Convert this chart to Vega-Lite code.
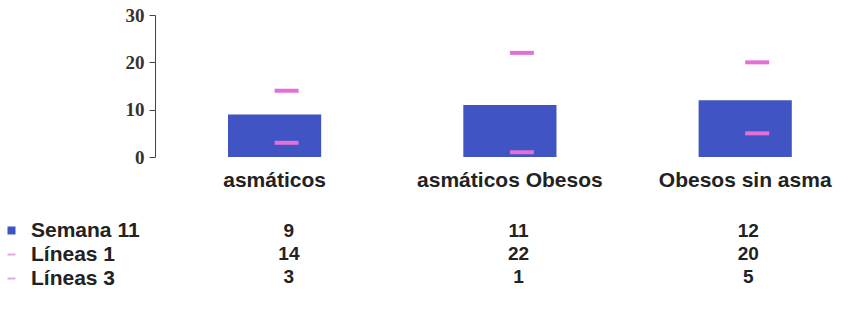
{
  "$schema": "https://vega.github.io/schema/vega-lite/v6.json",
  "background": "white",
  "padding": {"left": 1, "top": 6, "right": 4, "bottom": 0},
  "datasets": {
    "tabla": [
      {"grupo": "asmáticos", "serie": "Semana 11", "valor": 9},
      {"grupo": "asmáticos Obesos", "serie": "Semana 11", "valor": 11},
      {"grupo": "Obesos sin asma", "serie": "Semana 11", "valor": 12},
      {"grupo": "asmáticos", "serie": "Líneas 1", "valor": 14},
      {"grupo": "asmáticos Obesos", "serie": "Líneas 1", "valor": 22},
      {"grupo": "Obesos sin asma", "serie": "Líneas 1", "valor": 20},
      {"grupo": "asmáticos", "serie": "Líneas 3", "valor": 3},
      {"grupo": "asmáticos Obesos", "serie": "Líneas 3", "valor": 1},
      {"grupo": "Obesos sin asma", "serie": "Líneas 3", "valor": 5}
    ]
  },
  "config": {
    "view": {"stroke": null},
    "concat": {"spacing": 29},
    "legend": {
      "orient": "none",
      "legendX": -154,
      "legendY": 205,
      "title": null,
      "padding": 0,
      "labelFont": "Liberation Sans",
      "labelFontSize": 21,
      "labelFontWeight": "bold",
      "labelColor": "#222222",
      "labelOffset": 9,
      "labelLimit": 0,
      "rowPadding": 2,
      "symbolSize": 64,
      "symbolStrokeWidth": 2
    }
  },
  "vconcat": [
    {
      "width": 689,
      "height": 142,
      "data": {"name": "tabla"},
      "encoding": {
        "x": {
          "field": "grupo",
          "type": "nominal",
          "sort": ["asmáticos", "asmáticos Obesos", "Obesos sin asma"],
          "scale": {"paddingInner": 0.604, "paddingOuter": 0.266, "align": 0.583},
          "axis": {
            "title": null,
            "domain": false,
            "ticks": false,
            "tickSize": 0,
            "labelAngle": 0,
            "labelPadding": 12,
            "labelLimit": 0,
            "labelFont": "Liberation Sans",
            "labelFontSize": 21,
            "labelFontWeight": "bold",
            "labelColor": "#222222"
          }
        }
      },
      "layer": [
        {
          "transform": [{"filter": "datum.serie === 'Semana 11'"}],
          "mark": {"type": "bar"},
          "encoding": {
            "y": {
              "field": "valor",
              "type": "quantitative",
              "scale": {"domain": [0, 30], "nice": false},
              "axis": {
                "title": null,
                "values": [0, 10, 20, 30],
                "grid": false,
                "tickSize": 6,
                "tickColor": "#444444",
                "domainColor": "#444444",
                "labelPadding": 5,
                "labelFont": "Liberation Serif",
                "labelFontSize": 19,
                "labelFontWeight": "bold",
                "labelColor": "#333333"
              }
            },
            "color": {
              "field": "serie",
              "type": "nominal",
              "scale": {
                "domain": ["Semana 11", "Líneas 1", "Líneas 3"],
                "range": ["#4054C4", "#E36FD9", "#E36FD9"]
              },
              "legend": {
                "encode": {
                  "symbols": {
                    "update": {
                      "shape": {"signal": "datum.value === 'Semana 11' ? 'square' : 'stroke'"},
                      "fill": {"signal": "datum.value === 'Semana 11' ? '#4A62CC' : 'transparent'"},
                      "stroke": {"signal": "datum.value === 'Semana 11' ? 'transparent' : '#E8A6DC'"},
                      "strokeWidth": {"value": 2},
                      "opacity": {"value": 1}
                    }
                  }
                }
              }
            }
          }
        },
        {
          "transform": [{"filter": "datum.serie !== 'Semana 11'"}],
          "mark": {"type": "tick", "thickness": 4, "size": 24, "xOffset": 12, "opacity": 1},
          "encoding": {
            "y": {"field": "valor", "type": "quantitative"},
            "color": {"field": "serie", "type": "nominal"}
          }
        }
      ]
    },
    {
      "width": 689,
      "height": 69,
      "data": {"name": "tabla"},
      "mark": {
        "type": "text",
        "font": "Liberation Sans",
        "fontSize": 19,
        "fontWeight": "bold",
        "color": "#222222",
        "baseline": "middle"
      },
      "encoding": {
        "x": {
          "field": "grupo",
          "type": "nominal",
          "sort": ["asmáticos", "asmáticos Obesos", "Obesos sin asma"],
          "scale": {"paddingInner": 0.604, "paddingOuter": 0.266, "align": 0.583},
          "axis": null
        },
        "y": {
          "field": "serie",
          "type": "nominal",
          "sort": ["Semana 11", "Líneas 1", "Líneas 3"],
          "scale": {"paddingInner": 0, "paddingOuter": 0},
          "axis": null
        },
        "text": {"field": "valor", "type": "quantitative"}
      }
    }
  ]
}
